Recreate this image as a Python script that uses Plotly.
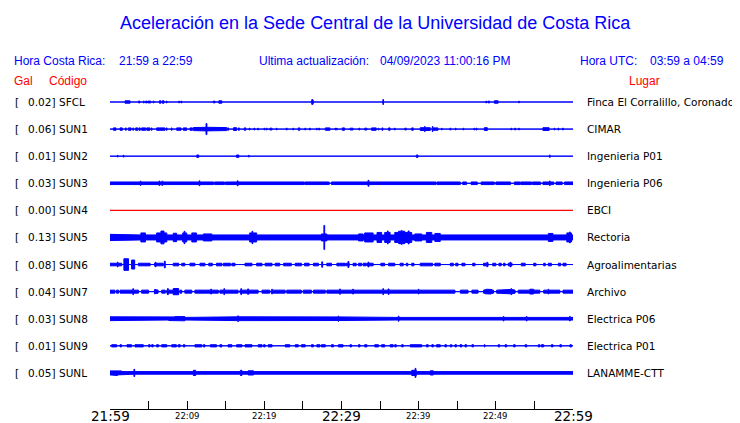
import numpy as np
import plotly.graph_objects as go

# ---------------- data ----------------
codes = ["SFCL", "SUN1", "SUN2", "SUN3", "SUN4", "SUN5", "SUN6", "SUN7", "SUN8", "SUN9", "SUNL"]
gal = [0.02, 0.06, 0.01, 0.03, 0.00, 0.13, 0.08, 0.04, 0.03, 0.01, 0.05]
places = ["Finca El Corralillo, Coronado", "CIMAR", "Ingenieria P01", "Ingenieria P06", "EBCI",
          "Rectoria", "Agroalimentarias", "Archivo", "Electrica P06", "Electrica P01", "LANAMME-CTT"]

tick_minutes = [0, 5, 10, 15, 20, 25, 30, 35, 40, 45, 50, 55, 60]
label_minutes = [0, 10, 20, 30, 40, 50, 60]
label_texts = ["21:59", "22:09", "22:19", "22:29", "22:39", "22:49", "22:59"]
label_major = [True, False, False, True, False, False, True]

# background (noise) half-amplitude of each trace, in display counts
base_amp = {"SFCL": 0.5, "SUN1": 0.5, "SUN2": 0.5, "SUN3": 1.8, "SUN4": 0.5, "SUN5": 3.0,
            "SUN6": 0.5, "SUN7": 2.0, "SUN8": 1.8, "SUN9": 0.5, "SUNL": 1.8}

# quiet windows (minutes after 21:59) where the trace drops to the bare line
quiet = {
    "SUN3": [(13.45, 13.55), (14.85, 14.95), (25.15, 25.25), (28.4, 28.7), (42.25, 42.35),
             (45.4, 45.7), (46.2, 46.8), (47.6, 48.1), (49.8, 50.0), (51.9, 52.4), (53.15, 53.25),
             (54.65, 54.75), (55.8, 56.1), (57.5, 57.8), (58.6, 58.9)],
    "SUN7": [(0.65, 0.85), (1.1, 1.3), (3.7, 4.1), (5.0, 5.75), (6.25, 6.7), (7.15, 7.35),
             (8.95, 9.07), (9.3, 9.7), (10.6, 11.0), (14.05, 14.25), (16.6, 16.85), (19.2, 19.7),
             (20.7, 20.9), (22.7, 22.9), (24.8, 25.05), (26.1, 26.35), (27.9, 28.1), (44.7, 45.4),
             (46.4, 46.9), (47.7, 48.4), (49.7, 50.1), (52.5, 52.9), (55.7, 56.2), (58.3, 58.7)],
}

# bursts: (start minute, end minute, half-amplitude counts)
events = {
    "SFCL": [(1.94, 2.59, 1.7), (3.67, 3.89, 1.4), (4.32, 4.45, 1.4), (4.62, 4.8, 1.4), (4.9, 5.27, 1.4),
             (5.6, 5.7, 1.4), (6.39, 6.61, 1.7), (6.78, 7.0, 1.7), (7.3, 7.4, 1.4), (7.5, 7.6, 1.2),
             (8.25, 8.35, 1.2), (8.9, 9.0, 1.4), (9.2, 9.3, 1.4), (13.4, 13.6, 1.4), (14.1, 14.5, 1.7),
             (25.1, 25.2, 1.2), (26.1, 26.35, 1.9), (26.17, 26.27, 3.0), (30.1, 30.2, 1.2),
             (35.35, 35.45, 3.0), (48.7, 48.8, 1.4), (49.0, 49.2, 1.4), (49.8, 50.3, 1.7), (52.95, 53.05, 1.4)],
    "SUN1": [(0.43, 0.78, 1.7), (1.3, 1.6, 1.7), (2.0, 2.1, 1.7), (2.38, 2.72, 1.7), (2.95, 3.05, 1.7),
             (3.33, 3.59, 1.7), (3.76, 3.93, 1.7), (4.1, 4.62, 1.7), (4.75, 5.18, 1.7), (5.35, 5.45, 1.7),
             (6.05, 7.13, 1.7), (7.3, 7.4, 1.7), (7.95, 8.05, 1.7), (8.64, 9.2, 1.7), (9.5, 9.94, 1.7),
             (10.37, 10.67, 1.7), (10.8, 15.12, 2.0), (11.0, 11.1, 2.6), (12.0, 13.0, 2.3),
             (12.45, 12.55, 6.0), (15.25, 15.35, 1.7), (16.0, 16.4, 1.9), (16.65, 16.75, 1.7),
             (17.4, 17.6, 1.7), (18.05, 18.15, 1.4), (18.65, 18.75, 1.4), (19.15, 19.25, 1.4),
             (19.95, 20.05, 1.4), (20.25, 20.35, 1.4), (20.7, 21.0, 1.4), (21.55, 21.65, 1.4),
             (22.85, 22.95, 1.4), (23.7, 23.8, 1.4), (24.4, 24.6, 1.7), (25.25, 25.35, 1.4),
             (25.85, 25.95, 1.4), (26.75, 26.85, 1.4), (27.05, 27.15, 1.4), (27.9, 28.5, 1.7),
             (29.15, 29.25, 1.4), (29.35, 29.45, 1.4), (30.1, 30.4, 1.7), (31.1, 31.5, 1.4),
             (32.25, 32.35, 1.4), (33.0, 33.3, 1.4), (33.9, 34.5, 1.7), (34.75, 34.85, 1.4),
             (35.25, 35.35, 1.7), (36.1, 36.3, 1.7), (36.85, 36.95, 1.4), (38.2, 38.4, 1.4),
             (39.1, 39.3, 1.7), (40.2, 41.5, 1.9), (40.75, 40.85, 3.0), (41.75, 41.85, 3.0),
             (41.8, 42.5, 1.7), (42.95, 43.05, 1.4), (44.05, 44.15, 1.4), (44.75, 44.85, 1.4),
             (45.75, 45.85, 1.4), (47.15, 47.25, 1.4), (47.45, 47.55, 1.4), (48.5, 48.9, 1.9),
             (51.95, 52.05, 1.4), (52.45, 52.55, 1.4), (52.95, 53.05, 1.4), (56.1, 56.9, 1.9),
             (57.55, 57.65, 1.4), (58.05, 58.15, 1.4), (58.65, 58.75, 1.4)],
    "SUN2": [(0.4, 0.5, 1.2), (0.95, 1.05, 1.4), (1.7, 1.8, 1.4), (3.62, 3.72, 1.2), (11.25, 11.5, 1.7),
             (15.75, 15.85, 1.2), (16.4, 16.7, 1.7), (17.35, 17.45, 1.2), (17.95, 18.05, 1.4),
             (33.45, 33.55, 1.2), (39.7, 39.9, 1.7), (56.95, 57.05, 1.7)],
    "SUN3": [(3.92, 4.02, 2.6), (6.35, 6.45, 2.8), (6.73, 6.83, 2.6), (11.55, 11.65, 3.0),
             (16.5, 16.6, 3.0), (33.45, 33.55, 3.5), (37.55, 37.65, 2.4), (56.95, 57.05, 2.8)],
    "SUN4": [],
    "SUN5": [(0.0, 1.3, 3.6), (3.24, 3.46, 3.4), (4.0, 4.6, 5.0), (5.2, 5.4, 3.6), (6.05, 7.35, 5.0),
             (6.6, 7.0, 6.9), (8.2, 8.64, 4.7), (8.85, 9.07, 3.6), (9.42, 9.94, 5.0), (9.6, 9.7, 6.7),
             (10.6, 11.2, 5.0), (12.1, 13.2, 4.0), (13.6, 13.8, 3.4), (14.3, 14.5, 3.4), (14.9, 15.1, 3.4),
             (15.75, 15.85, 3.4), (16.4, 16.6, 3.4), (18.1, 19.0, 5.0), (18.4, 18.5, 6.7),
             (19.4, 19.9, 3.7), (20.1, 20.3, 3.4), (21.0, 21.8, 3.4), (22.5, 23.3, 3.4), (23.8, 24.4, 3.6),
             (25.3, 25.9, 3.4), (26.6, 27.0, 3.4), (27.4, 28.1, 4.0), (27.73, 27.83, 12.5),
             (28.3, 29.2, 3.6), (29.6, 30.5, 3.7), (30.9, 31.7, 3.4), (32.2, 32.8, 4.0), (33.0, 34.1, 5.0),
             (34.6, 35.2, 5.5), (35.6, 36.3, 5.5), (35.95, 36.05, 7.0), (36.9, 39.1, 5.5),
             (37.4, 38.2, 6.7), (37.75, 37.85, 7.5), (38.65, 38.75, 7.0), (39.5, 40.4, 4.0),
             (41.0, 41.7, 5.5), (42.1, 42.8, 4.5), (43.2, 43.6, 3.6), (44.1, 44.7, 3.4), (45.6, 46.0, 3.4),
             (46.9, 47.3, 3.6), (48.4, 48.8, 3.4), (50.1, 51.4, 3.7), (52.5, 52.9, 3.4), (53.8, 54.4, 3.4),
             (54.9, 55.7, 3.6), (56.8, 57.4, 4.5), (57.15, 57.25, 5.0), (58.1, 58.5, 3.4),
             (59.2, 59.8, 5.0), (59.55, 59.65, 6.0)],
    "SUN6": [(0.0, 1.51, 1.8), (0.95, 1.05, 2.9), (1.8, 2.4, 6.3), (2.8, 3.2, 5.0), (3.67, 5.2, 1.8),
             (5.75, 6.9, 1.8), (5.85, 5.95, 2.7), (7.05, 7.15, 3.8), (8.2, 8.9, 1.8), (9.3, 9.7, 1.8),
             (10.37, 11.0, 1.8), (11.66, 12.3, 1.8), (12.8, 13.26, 1.8), (13.8, 14.5, 1.8),
             (14.7, 15.6, 1.8), (15.8, 16.2, 1.8), (17.5, 18.4, 1.8), (19.0, 19.7, 1.8), (20.1, 21.0, 1.8),
             (21.4, 22.0, 1.8), (22.5, 23.5, 1.8), (24.0, 24.8, 1.8), (25.2, 25.8, 1.8), (26.35, 27.0, 1.8),
             (27.45, 27.55, 3.2), (28.1, 28.7, 1.8), (29.4, 30.5, 1.8), (30.6, 31.0, 1.8),
             (30.85, 30.95, 3.5), (31.5, 31.9, 1.8), (32.2, 32.6, 1.8), (32.8, 33.2, 1.8),
             (33.3, 34.1, 1.8), (33.45, 33.55, 2.9), (35.1, 35.6, 1.8), (36.1, 36.9, 1.8),
             (37.6, 38.0, 1.8), (38.4, 38.6, 1.8), (39.1, 39.4, 1.8), (40.2, 41.8, 1.8), (42.1, 42.8, 1.8),
             (44.1, 44.5, 1.8), (44.8, 45.1, 1.8), (45.6, 46.0, 1.8), (47.0, 47.3, 1.8), (48.4, 49.0, 1.8),
             (48.85, 48.95, 2.7), (49.6, 50.0, 1.8), (50.4, 50.7, 1.8), (51.0, 51.2, 1.8),
             (51.6, 52.1, 1.8), (51.85, 51.95, 2.7), (53.3, 53.8, 1.8), (54.9, 55.2, 1.8),
             (56.2, 56.4, 1.8), (56.8, 57.2, 1.8), (58.1, 58.4, 1.8), (58.7, 59.1, 1.8)],
    "SUN7": [(2.95, 3.05, 3.5), (5.75, 5.85, 2.7), (7.45, 7.55, 3.5), (8.2, 8.9, 3.6), (8.45, 8.55, 4.0),
             (13.05, 13.15, 2.9), (14.75, 14.85, 3.5), (16.95, 17.05, 3.5), (17.85, 17.95, 3.2),
             (20.95, 21.05, 2.9), (23.25, 23.35, 2.7), (24.55, 24.65, 2.7), (29.75, 29.85, 3.2),
             (31.45, 31.55, 2.9), (35.35, 35.45, 3.5), (36.05, 36.15, 3.2), (39.95, 40.05, 2.9),
             (40.8, 41.5, 2.6), (48.6, 49.5, 2.6), (48.75, 48.85, 2.9), (49.25, 49.35, 2.9),
             (51.0, 52.3, 2.7), (51.95, 52.05, 3.5), (54.4, 54.9, 2.9), (54.5, 54.6, 3.5),
             (56.75, 56.85, 2.9), (57.65, 57.75, 2.7)],
    "SUN8": [(0.0, 2.6, 2.4), (3.45, 4.75, 2.3), (5.4, 5.8, 2.3), (6.5, 7.1, 2.3), (7.6, 9.7, 2.3),
             (8.4, 9.7, 2.6), (10.6, 11.9, 2.3), (12.3, 13.2, 2.3), (14.9, 17.1, 2.4), (16.55, 16.65, 3.4),
             (20.1, 20.5, 2.3), (22.3, 22.9, 2.3), (24.2, 24.6, 2.3), (25.3, 26.1, 2.3), (27.0, 27.9, 2.3),
             (29.2, 30.5, 2.3), (29.55, 29.65, 3.1), (30.5, 30.7, 2.4), (31.5, 32.4, 2.3),
             (32.8, 33.7, 2.3), (34.6, 35.2, 2.3), (37.35, 37.45, 3.1), (38.9, 40.2, 2.4),
             (40.8, 41.1, 2.3), (41.7, 42.3, 2.4), (44.5, 44.9, 2.3), (45.6, 45.9, 2.3),
             (50.95, 51.05, 2.8), (53.95, 54.05, 2.8), (59.55, 59.65, 2.8)],
    "SUN9": [(0.22, 0.86, 1.6), (1.3, 1.5, 1.6), (2.2, 2.8, 1.6), (3.24, 4.32, 1.6), (5.0, 5.2, 1.6),
             (5.4, 5.6, 1.6), (6.05, 6.3, 1.6), (6.7, 7.35, 1.6), (8.0, 8.6, 1.6), (8.85, 9.1, 1.6),
             (9.5, 9.7, 1.6), (11.0, 11.9, 1.6), (12.1, 12.3, 1.6), (13.0, 13.8, 1.6), (14.25, 14.5, 1.6),
             (15.3, 15.8, 1.6), (16.4, 17.1, 1.6), (17.5, 18.4, 1.6), (19.2, 19.7, 1.6), (19.9, 20.1, 1.6),
             (20.5, 21.0, 1.6), (22.7, 23.3, 1.6), (24.0, 24.4, 1.6), (24.8, 25.3, 1.6), (26.1, 26.35, 1.6),
             (26.8, 27.2, 1.6), (27.4, 27.9, 1.6), (28.7, 28.95, 1.6), (29.6, 30.2, 1.6), (31.1, 31.3, 1.6),
             (32.2, 32.4, 1.6), (33.0, 33.3, 1.6), (34.3, 34.8, 1.6), (35.2, 35.6, 1.6), (36.3, 36.7, 1.6),
             (36.9, 37.1, 1.6), (37.8, 38.0, 1.6), (38.9, 40.4, 1.6), (41.0, 41.25, 1.6), (41.7, 41.9, 1.6),
             (42.3, 42.8, 1.6), (43.4, 43.6, 1.6), (44.1, 44.3, 1.6), (44.7, 44.9, 1.6), (45.35, 45.6, 1.6),
             (46.0, 46.2, 1.6), (46.9, 47.1, 1.6), (48.5, 48.6, 1.6), (50.3, 50.5, 1.6), (51.2, 51.4, 1.6),
             (52.3, 52.5, 1.6), (53.8, 54.0, 1.6), (55.5, 55.7, 1.6), (55.9, 56.2, 1.6), (57.2, 57.4, 1.6),
             (58.3, 58.5, 1.6), (59.6, 59.8, 1.6)],
    "SUNL": [(0.0, 1.5, 2.5), (0.2, 0.3, 3.1), (0.85, 0.95, 3.1), (3.1, 3.2, 4.1), (3.67, 4.1, 2.4),
             (4.75, 4.95, 2.4), (5.8, 6.05, 2.4), (8.4, 8.5, 2.2), (10.8, 11.1, 3.1), (10.95, 11.05, 3.4),
             (12.5, 12.75, 2.4), (13.2, 13.4, 2.4), (14.25, 14.5, 2.4), (16.9, 17.1, 3.1), (17.9, 18.6, 2.6),
             (20.3, 20.5, 2.4), (22.7, 22.9, 2.4), (24.2, 24.4, 2.4), (25.3, 25.5, 2.4), (27.4, 27.6, 2.4),
             (28.7, 28.9, 2.4), (29.6, 30.2, 2.4), (31.05, 31.15, 2.4), (32.2, 32.6, 2.4), (34.1, 34.8, 2.4),
             (35.6, 36.1, 2.4), (36.85, 36.95, 2.4), (39.1, 39.7, 3.1), (39.55, 39.65, 5.0),
             (41.5, 41.9, 2.6), (42.3, 42.8, 2.4), (43.55, 43.65, 2.4), (45.1, 45.35, 2.4),
             (46.2, 46.4, 2.4), (48.6, 48.8, 2.4), (51.2, 51.4, 2.4), (57.0, 57.4, 2.4), (58.1, 58.3, 2.4)],
}
trace_colors = {"SUN4": "#FF0000"}

# ---------------- layout geometry ----------------
OFF = 8                                   # default page margin around the figure
W, H = 740 - OFF, 423 - OFF
L, R, T, B = 110 - OFF, 573 - OFF, 88 - OFF, 409 - OFF     # plot area in figure pixels
ROW_PX = 27.09                            # pixels per trace row
y_top = -(102 - OFF - T) / ROW_PX
y_bot = y_top + (B - T) / ROW_PX
GAIN = 1.0 / ROW_PX                       # counts -> rows
BLUE = "#0000FF"
RED = "#FF0000"


def px_x(p):
    return (p - OFF - L) / (R - L)


def px_y(p):
    return (B - (p - OFF)) / (B - T)


def envelope(code, dt=0.02):
    n = int(round(60 / dt))
    a = np.full(n, base_amp[code], dtype=float)
    for s, e in quiet.get(code, []):
        a[int(round(s / dt)):int(round(e / dt))] = 0.5
    for s, e, v in events[code]:
        sl = slice(int(round(s / dt)), max(int(round(e / dt)), int(round(s / dt)) + 1))
        a[sl] = np.maximum(a[sl], v)
    xs, amps = [], []
    i = 0
    while i < n:
        j = i
        while j + 1 < n and a[j + 1] == a[i]:
            j += 1
        xs += [i * dt, (j + 1) * dt]
        amps += [a[i], a[i]]
        i = j + 1
    return np.array(xs), np.array(amps)


fig = go.Figure()
for row, code in enumerate(codes):
    xs, amps = envelope(code)
    h = np.maximum(amps - 0.5, 0.0) * GAIN
    px = np.concatenate([xs, xs[::-1], xs[:1]])
    py = np.concatenate([row - h, (row + h)[::-1], [row - h[0]]])
    col = trace_colors.get(code, BLUE)
    fig.add_trace(go.Scatter(x=px, y=py, mode="lines", fill="toself", fillcolor=col,
                             line=dict(color=col, width=1), hoverinfo="skip", showlegend=False))

ann = []
lab_font = dict(family="DejaVu Sans", size=10.5, color="black")
for row, code in enumerate(codes):
    ann.append(dict(x=px_x(13), y=row, xref="paper", yref="y", text="[", xanchor="left",
                    yanchor="middle", showarrow=False, font=lab_font))
    ann.append(dict(x=px_x(57), y=row, xref="paper", yref="y", text=f"{gal[row]:.2f}]",
                    xanchor="right", yanchor="middle", showarrow=False, font=lab_font))
    ann.append(dict(x=px_x(57), y=row, xref="paper", yref="y", text=code, xanchor="left",
                    yanchor="middle", showarrow=False, font=lab_font))
    ann.append(dict(x=px_x(585), y=row, xref="paper", yref="y", text=places[row], xanchor="left",
                    yanchor="middle", showarrow=False, font=lab_font))

for m, t, big in zip(label_minutes, label_texts, label_major):
    ann.append(dict(x=m, y=0, xref="x", yref="paper", text=t, xanchor="center", yanchor="top",
                    yshift=2 if big else -1, showarrow=False, borderpad=0,
                    font=dict(family="DejaVu Sans", size=13.5 if big else 8.5, color="black")))

hdr = dict(family="Liberation Sans, Arial", size=12, color=BLUE)
red = dict(family="Liberation Sans, Arial", size=12, color=RED)
ann.append(dict(x=px_x(375), y=px_y(23), xref="paper", yref="paper", xanchor="center", yanchor="middle",
                text="Aceleración en la Sede Central de la Universidad de Costa Rica", showarrow=False,
                font=dict(family="Liberation Sans, Arial", size=18, color=BLUE)))
for xp, txt in [(12, "Hora Costa Rica:"), (117, "21:59 a 22:59"), (257, "Ultima actualización:"),
                (378, "04/09/2023 11:00:16 PM"), (578, "Hora UTC:"), (648, "03:59 a 04:59")]:
    ann.append(dict(x=px_x(xp), y=px_y(61), xref="paper", yref="paper", xanchor="left", yanchor="middle",
                    text=txt, showarrow=False, font=hdr))
for xp, txt in [(12, "Gal"), (47, "Código"), (627, "Lugar")]:
    ann.append(dict(x=px_x(xp), y=px_y(81), xref="paper", yref="paper", xanchor="left", yanchor="middle",
                    text=txt, showarrow=False, font=red))

fig.update_layout(
    width=W, height=H, autosize=False,
    margin=dict(l=L, r=W - R, t=T, b=H - B, pad=0),
    paper_bgcolor="white", plot_bgcolor="white",
    xaxis=dict(range=[0, 60], showgrid=False, zeroline=False, showline=True, linecolor="black",
               linewidth=1, ticks="inside", ticklen=8, tickcolor="black", tickwidth=1,
               tickvals=tick_minutes, showticklabels=False, fixedrange=True),
    yaxis=dict(range=[y_bot, y_top], visible=False, fixedrange=True),
    annotations=ann, showlegend=False,
)
fig.write_html("out.html", config={"displayModeBar": False})
